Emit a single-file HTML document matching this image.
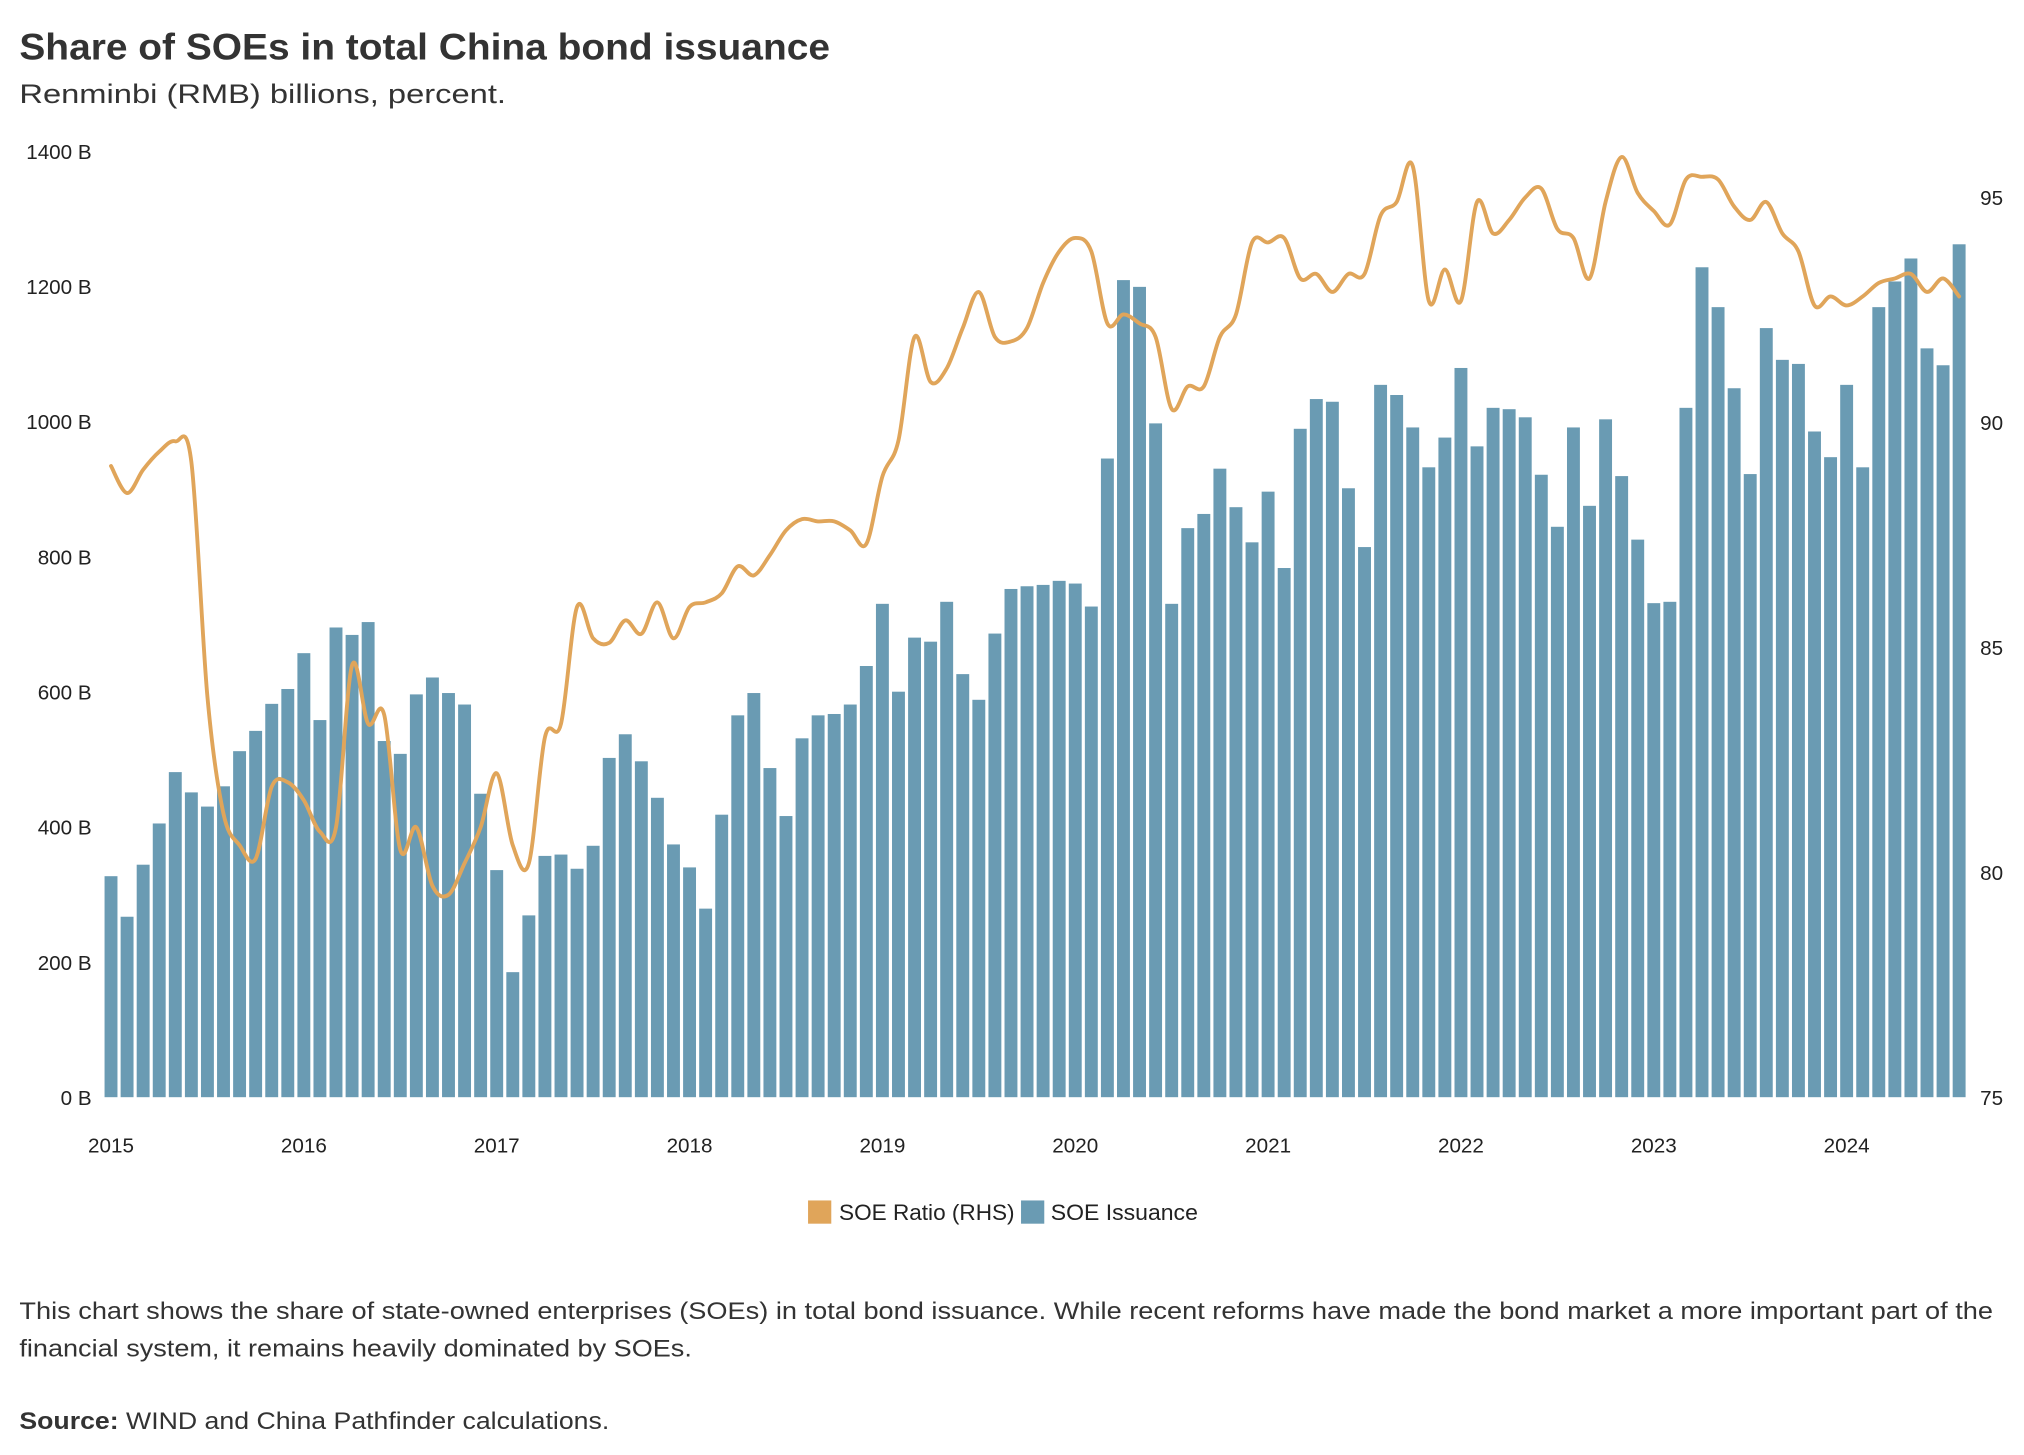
<!DOCTYPE html>
<html><head><meta charset="utf-8"><style>
html,body{margin:0;padding:0;background:#fff;}
svg{display:block;}
text{font-family:"Liberation Sans",sans-serif;fill:#222;}
</style></head><body>
<svg id="chart" width="2024" height="1455" viewBox="0 0 1568 1127.2" preserveAspectRatio="none" xmlns="http://www.w3.org/2000/svg">
<text x="15" y="46" font-size="29" font-weight="bold" textLength="628" lengthAdjust="spacingAndGlyphs" style="fill:#333">Share of SOEs in total China bond issuance</text>
<text x="15" y="80" font-size="21" textLength="377" lengthAdjust="spacingAndGlyphs" style="fill:#333">Renminbi (RMB) billions, percent.</text>
<g id="yleft"></g>
<g id="yright"></g>
<g id="bars"></g>
<path id="ratio" fill="none" stroke="#e0a55a" stroke-width="3" stroke-linejoin="round" stroke-linecap="round"/>
<g id="xaxis"></g>
<g>
<rect x="626" y="930" width="18" height="18" fill="#e0a55a"/>
<text x="650" y="945" font-size="17" textLength="136" lengthAdjust="spacingAndGlyphs">SOE Ratio (RHS)</text>
<rect x="791" y="930" width="18" height="18" fill="#6a9bb3"/>
<text x="814" y="945" font-size="17" textLength="114" lengthAdjust="spacingAndGlyphs">SOE Issuance</text>
</g>
<text x="15" y="1022" font-size="18.5" textLength="1529" lengthAdjust="spacingAndGlyphs" style="fill:#333">This chart shows the share of state-owned enterprises (SOEs) in total bond issuance. While recent reforms have made the bond market a more important part of the</text>
<text x="15" y="1051" font-size="18.5" textLength="521" lengthAdjust="spacingAndGlyphs" style="fill:#333">financial system, it remains heavily dominated by SOEs.</text>
<text x="15" y="1107" font-size="18.5" textLength="457" lengthAdjust="spacingAndGlyphs" style="fill:#333"><tspan font-weight="bold">Source:</tspan> WIND and China Pathfinder calculations.</text>
</svg>
<script>
const years = ["2015","2016","2017","2018","2019","2020","2021","2022","2023","2024"];
const leftTicks = [0,200,400,600,800,1000,1200,1400];
const rightTicks = [75,80,85,90,95];
const issuance = [327,267,344,405,481,451,430,460,512,542,582,604,
657,558,695,684,703,527,508,596,621,598,581,449,
336,185,269,357,359,338,372,502,537,497,443,374,
340,279,418,565,598,487,416,531,565,567,581,638,
730,600,680,674,733,626,588,686,752,756,758,764,
760,726,945,1209,1199,997,730,842,863,930,873,821,
896,783,989,1033,1029,901,814,1054,1039,991,932,976,
1079,963,1020,1018,1006,921,844,991,875,1003,919,825,
731,733,1020,1228,1169,1049,922,1138,1091,1085,985,947,
1054,932,1169,1207,1241,1108,1083,1262];
const ratio = [89.03,88.43,88.95,89.35,89.58,89.12,83.9,81.3,80.6,80.3,81.9,82.0,
81.6,80.9,81.0,84.6,83.3,83.5,80.5,81.0,79.7,79.5,80.2,81.0,
82.2,80.6,80.2,83.0,83.3,85.9,85.2,85.1,85.6,85.3,86.0,85.2,
85.9,86.0,86.2,86.8,86.6,87.05,87.6,87.85,87.8,87.8,87.6,87.3,
88.8,89.6,91.9,90.9,91.2,92.1,92.9,91.9,91.8,92.1,93.1,93.8,
94.1,93.8,92.2,92.4,92.2,91.9,90.3,90.8,90.8,91.9,92.4,94.0,
94.0,94.1,93.2,93.3,92.9,93.3,93.3,94.6,94.9,95.7,92.7,93.4,
92.7,94.9,94.2,94.5,95.0,95.2,94.3,94.1,93.2,94.9,95.9,95.1,
94.7,94.4,95.4,95.46,95.4,94.8,94.5,94.9,94.2,93.8,92.6,92.8,
92.6,92.8,93.1,93.2,93.3,92.9,93.2,92.8];

const NS="http://www.w3.org/2000/svg";
const x0=86, step=12.45, yBase=850;
const xPos = i => x0 + i*step;
const yL = v => yBase - v*(733/1400);
const yR = v => yBase - (v-75)*(697/20);
function mk(tag, parent){const e=document.createElementNS(NS,tag);parent.appendChild(e);return e;}

const gl=document.getElementById('yleft');
leftTicks.forEach(t=>{const e=mk('text',gl);


e.setAttribute('x',71);e.setAttribute('y',yL(t)+6);e.setAttribute('text-anchor','end');e.setAttribute('font-size','16');e.textContent=t+' B';});
const gr=document.getElementById('yright');
rightTicks.forEach(t=>{const e=mk('text',gr);


e.setAttribute('x',1534);e.setAttribute('y',yR(t)+6);e.setAttribute('font-size','16');e.textContent=t;});
const gx=document.getElementById('xaxis');
years.forEach((y,k)=>{const e=mk('text',gx);


e.setAttribute('x',xPos(k*12));e.setAttribute('y',893);e.setAttribute('text-anchor','middle');e.setAttribute('font-size','16');e.textContent=y;});
const gb=document.getElementById('bars');
issuance.forEach((v,i)=>{const r=mk('rect',gb);


r.setAttribute('x',xPos(i)-5);r.setAttribute('width',10);r.setAttribute('y',yL(v));r.setAttribute('height',yBase-yL(v));r.setAttribute('fill','#6a9bb3');});
const pts=ratio.map((v,i)=>[xPos(i),yR(v)]);
let d='M'+pts[0][0]+','+pts[0][1];
for(let i=0;i<pts.length-1;i++){const p0=pts[Math.max(i-1,0)],p1=pts[i],p2=pts[i+1],p3=pts[Math.min(i+2,pts.length-1)];
const c1=[p1[0]+(p2[0]-p0[0])/6,p1[1]+(p2[1]-p0[1])/6],c2=[p2[0]-(p3[0]-p1[0])/6,p2[1]-(p3[1]-p1[1])/6];
d+=' C'+c1+' '+c2+' '+p2;}
document.getElementById('ratio').setAttribute('d',d);
</script>
</body></html>
